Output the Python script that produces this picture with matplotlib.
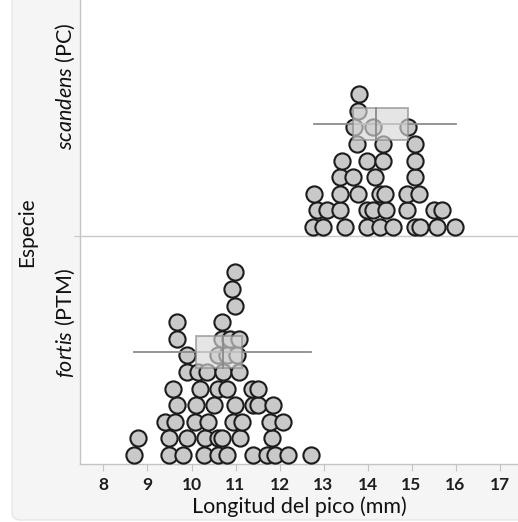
import matplotlib
matplotlib.use("Agg")
import matplotlib.pyplot as plt
from matplotlib.patches import FancyBboxPatch, Rectangle

plt.rcParams['font.family'] = ['Lato', 'DejaVu Sans']
plt.rcParams['mathtext.fontset'] = 'custom'
plt.rcParams['mathtext.rm'] = 'Lato'
plt.rcParams['mathtext.it'] = 'Lato:italic'

# --- datos: longitud del pico (mm) y fila de apilado ---
fortis_x = [8.69, 9.49, 9.81, 10.29, 10.60, 10.80, 11.40, 11.71, 11.90, 12.20, 12.72,
            8.79, 9.49, 9.89, 10.31, 10.60, 10.69, 11.10, 11.82,
            9.40, 9.63, 10.08, 10.38, 10.95, 11.14, 11.78, 12.09,
            9.68, 10.10, 10.50, 10.99, 11.40, 11.52, 11.85,
            9.59, 10.19, 10.60, 10.81, 11.37, 11.52,
            9.89, 10.15, 10.35, 10.72, 11.09,
            9.89, 10.61, 10.80, 11.03,
            9.68, 10.69, 10.88, 11.09,
            9.68, 10.69,
            10.99,
            10.91,
            10.99]
fortis_fila = [0] * 11 + [1] * 8 + [2] * 8 + [3] * 7 + [4] * 6 + [5] * 5 + [6] * 4 + [7] * 4 + [8] * 2 + [9, 10, 11]

scandens_x = [12.76, 12.98, 13.49, 13.98, 14.28, 14.59, 15.08, 15.19, 15.57, 15.99,
              12.85, 13.07, 13.38, 13.98, 14.13, 14.42, 14.89, 15.50, 15.69,
              12.78, 13.38, 13.79, 14.28, 14.40, 14.89, 15.18,
              13.38, 13.68, 14.17, 15.08,
              13.41, 13.98, 14.35, 15.08,
              13.77, 14.35, 15.08,
              13.69, 14.13, 14.93,
              13.79,
              13.81]
scandens_fila = [0] * 10 + [1] * 9 + [2] * 7 + [3] * 4 + [4] * 4 + [5] * 3 + [6] * 3 + [7, 8]

# resumen de caja: q1, mediana, q3, minimo, maximo
fortis_caja = [10.10, 10.71, 11.14, 8.69, 12.71]
scandens_caja = [13.68, 14.19, 14.93, 12.78, 16.00]

etiquetas = [r'$\it{fortis}$ (PTM)', r'$\it{scandens}$ (PC)']
xticks = [8, 9, 10, 11, 12, 13, 14, 15, 16, 17]

W, H = 518, 522
CAT = 228        # alto de cada especie (unidades = px)
PASO = 16.6      # separacion entre filas de puntos
BASE = 9.0

fig = plt.figure(figsize=(W / 100, H / 100), dpi=100)
fig.patch.set_facecolor('white')
panel = FancyBboxPatch((12 / W, 2 / H), 1.1, 1.1, boxstyle="round,pad=0,rounding_size=0.015",
                       transform=fig.transFigure, fc='#f5f5f5', ec='#e2e2e2', lw=0.8, zorder=-5)
fig.patches.append(panel)

ax = fig.add_axes([80 / W, 1 - 464 / H, (W - 80) / W, 464 / H])
ax.set_zorder(2)
ax.set_facecolor('white')
ax.set_xlim(7.466, 17.42)
ax.set_ylim(0, 2 * CAT + 8)

grupos = [(fortis_x, fortis_fila, fortis_caja), (scandens_x, scandens_fila, scandens_caja)]
for i, (xs, filas, caja) in enumerate(grupos):
    base = i * CAT
    ys = [base + BASE + f * PASO for f in filas]
    ax.scatter(xs, ys, s=(16.2 * 0.72) ** 2, facecolor='#c9c9c9', edgecolor='#1c1c1c',
               linewidth=1.5, zorder=3, clip_on=False)
    q1, med, q3, lo, hi = caja
    yc = base + 112
    ax.plot([lo, hi], [yc, yc], color='#8c8c8c', lw=1.3, zorder=4)
    ax.add_patch(Rectangle((q1, yc - 16), q3 - q1, 32, fc='#d8d8d8', alpha=0.65,
                           ec='#8a8a8a', lw=1.4, zorder=5))
    ax.plot([med, med], [yc - 16, yc + 16], color='#8a8a8a', lw=1.3, zorder=6)

ax.axhline(CAT, color='#c8c8c8', lw=1, zorder=1)

for s in ['top', 'right']:
    ax.spines[s].set_visible(False)
for s in ['left', 'bottom']:
    ax.spines[s].set_color('#c4c4c4')
    ax.spines[s].set_linewidth(1)

ax.set_xticks(xticks)
ax.set_xticklabels([str(t) for t in xticks], fontsize=12.5, fontweight='bold', color='#1e1e1e')
ax.tick_params(axis='x', length=5, color='#c4c4c4', pad=4)
ax.set_yticks([CAT])
ax.set_yticklabels([''])
ax.tick_params(axis='y', length=4, color='#c8c8c8')

ax.set_xlabel('Longitud del pico (mm)', fontsize=15.5, color='#111111', labelpad=3)

fig.text(65 / W, 1 - 323 / H, etiquetas[0], rotation=90, ha='center', va='center',
         fontsize=15.5, color='#111111')
fig.text(65 / W, 1 - 86 / H, etiquetas[1], rotation=90, ha='center', va='center',
         fontsize=15.5, color='#111111')
fig.text(27 / W, 1 - 232 / H, 'Especie', rotation=90, ha='center', va='center',
         fontsize=15, color='#111111')

fig.savefig('out.png', dpi=100, facecolor=fig.get_facecolor())
